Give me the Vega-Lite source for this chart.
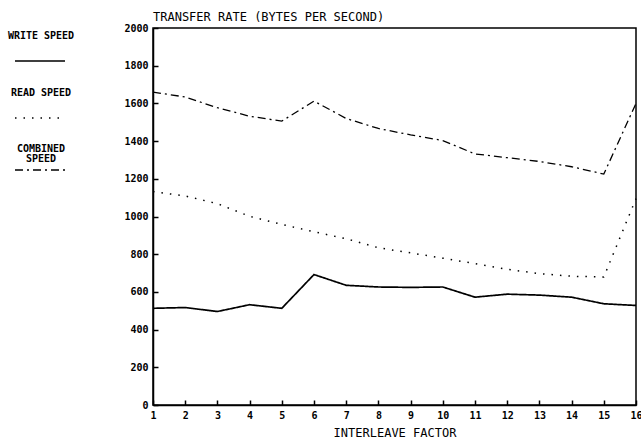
{
  "$schema": "https://vega.github.io/schema/vega-lite/v6.json",
  "width": 483,
  "height": 377,
  "autosize": {"type": "none"},
  "padding": {"left": 153, "top": 28, "right": 5, "bottom": 36},
  "background": "white",
  "title": {
    "text": "TRANSFER RATE (BYTES PER SECOND)",
    "anchor": "start",
    "frame": "group",
    "offset": -1,
    "font": "DejaVu Sans Mono",
    "fontSize": 12,
    "fontWeight": "normal",
    "color": "black"
  },
  "config": {
    "view": {"stroke": "black", "strokeWidth": 1.5},
    "axis": {
      "grid": false,
      "domainColor": "black",
      "domainWidth": 1.5,
      "tickColor": "black",
      "tickWidth": 1.5,
      "labelColor": "black",
      "labelFont": "DejaVu Sans Mono",
      "labelFontWeight": "bold",
      "labelFontSize": 10,
      "titleFont": "DejaVu Sans Mono",
      "titleFontWeight": "normal",
      "titleFontSize": 12,
      "titleColor": "black"
    }
  },
  "data": {
    "values": [
      {"x": 1, "series": "WRITE SPEED", "v": 513},
      {"x": 2, "series": "WRITE SPEED", "v": 517},
      {"x": 3, "series": "WRITE SPEED", "v": 496},
      {"x": 4, "series": "WRITE SPEED", "v": 532},
      {"x": 5, "series": "WRITE SPEED", "v": 513},
      {"x": 6, "series": "WRITE SPEED", "v": 692},
      {"x": 7, "series": "WRITE SPEED", "v": 635},
      {"x": 8, "series": "WRITE SPEED", "v": 626},
      {"x": 9, "series": "WRITE SPEED", "v": 624},
      {"x": 10, "series": "WRITE SPEED", "v": 626},
      {"x": 11, "series": "WRITE SPEED", "v": 572},
      {"x": 12, "series": "WRITE SPEED", "v": 588},
      {"x": 13, "series": "WRITE SPEED", "v": 583},
      {"x": 14, "series": "WRITE SPEED", "v": 572},
      {"x": 15, "series": "WRITE SPEED", "v": 537},
      {"x": 16, "series": "WRITE SPEED", "v": 528},
      {"x": 1, "series": "READ SPEED", "v": 1132},
      {"x": 2, "series": "READ SPEED", "v": 1109},
      {"x": 3, "series": "READ SPEED", "v": 1068},
      {"x": 4, "series": "READ SPEED", "v": 1001},
      {"x": 5, "series": "READ SPEED", "v": 958},
      {"x": 6, "series": "READ SPEED", "v": 919},
      {"x": 7, "series": "READ SPEED", "v": 882},
      {"x": 8, "series": "READ SPEED", "v": 834},
      {"x": 9, "series": "READ SPEED", "v": 807},
      {"x": 10, "series": "READ SPEED", "v": 779},
      {"x": 11, "series": "READ SPEED", "v": 750},
      {"x": 12, "series": "READ SPEED", "v": 720},
      {"x": 13, "series": "READ SPEED", "v": 697},
      {"x": 14, "series": "READ SPEED", "v": 683},
      {"x": 15, "series": "READ SPEED", "v": 679},
      {"x": 16, "series": "READ SPEED", "v": 1095},
      {"x": 1, "series": "COMBINED SPEED", "v": 1660},
      {"x": 2, "series": "COMBINED SPEED", "v": 1634},
      {"x": 3, "series": "COMBINED SPEED", "v": 1577},
      {"x": 4, "series": "COMBINED SPEED", "v": 1532},
      {"x": 5, "series": "COMBINED SPEED", "v": 1506},
      {"x": 6, "series": "COMBINED SPEED", "v": 1612},
      {"x": 7, "series": "COMBINED SPEED", "v": 1520},
      {"x": 8, "series": "COMBINED SPEED", "v": 1467},
      {"x": 9, "series": "COMBINED SPEED", "v": 1433},
      {"x": 10, "series": "COMBINED SPEED", "v": 1403},
      {"x": 11, "series": "COMBINED SPEED", "v": 1332},
      {"x": 12, "series": "COMBINED SPEED", "v": 1312},
      {"x": 13, "series": "COMBINED SPEED", "v": 1292},
      {"x": 14, "series": "COMBINED SPEED", "v": 1264},
      {"x": 15, "series": "COMBINED SPEED", "v": 1225},
      {"x": 16, "series": "COMBINED SPEED", "v": 1600}
    ]
  },
  "mark": {"type": "line", "color": "black", "strokeCap": "butt", "strokeJoin": "miter"},
  "encoding": {
    "x": {
      "field": "x",
      "type": "quantitative",
      "scale": {"domain": [1, 16], "nice": false, "zero": false},
      "axis": {
        "title": "INTERLEAVE FACTOR",
        "values": [1, 2, 3, 4, 5, 6, 7, 8, 9, 10, 11, 12, 13, 14, 15, 16],
        "format": "d",
        "tickSize": -5,
        "labelPadding": 10,
        "labelFlush": false,
        "labelOverlap": false,
        "titlePadding": 7
      }
    },
    "y": {
      "field": "v",
      "type": "quantitative",
      "scale": {"domain": [0, 2000], "nice": false},
      "axis": {
        "title": null,
        "values": [0, 200, 400, 600, 800, 1000, 1200, 1400, 1600, 1800, 2000],
        "format": "d",
        "tickSize": -5,
        "labelPadding": 10,
        "labelFlush": false,
        "labelOverlap": false
      }
    },
    "strokeDash": {
      "field": "series",
      "type": "nominal",
      "scale": {
        "domain": ["WRITE SPEED", "READ SPEED", "COMBINED SPEED"],
        "range": [[1, 0], [1.5, 7], [8, 4, 2, 4]]
      },
      "legend": {
        "title": null,
        "orient": "none",
        "legendX": -139,
        "legendY": 7,
        "symbolType": "stroke",
        "symbolSize": 2500,
        "symbolStrokeColor": "black",
        "symbolStrokeWidth": 1.5,
        "labelFont": "DejaVu Sans Mono",
        "labelFontSize": 10,
        "labelFontWeight": "bold",
        "labelColor": "black",
        "labelAlign": "center",
        "labelOffset": -25,
        "labelLimit": 200,
        "rowPadding": 23,
        "labelExpr": "datum.label == 'COMBINED SPEED' ? ['COMBINED', 'SPEED'] : datum.label",
        "encode": {
          "labels": {
            "update": {
              "dy": {"signal": "datum.label == 'COMBINED SPEED' ? -21 : -25"},
              "lineHeight": {"value": 10}
            }
          }
        }
      }
    },
    "strokeWidth": {
      "field": "series",
      "type": "nominal",
      "scale": {
        "domain": ["WRITE SPEED", "READ SPEED", "COMBINED SPEED"],
        "range": [1.7, 1.3, 2.8]
      },
      "legend": null
    }
  }
}
